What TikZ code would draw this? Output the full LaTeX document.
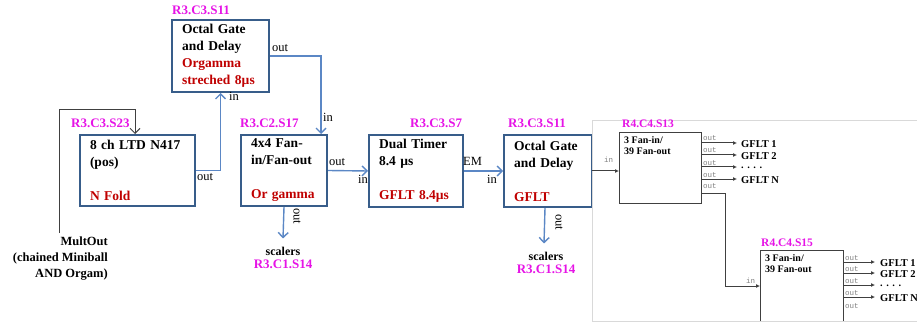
\documentclass[tikz,border=0pt]{standalone}
\usepackage{fontspec}
\setmainfont{Liberation Serif}
\newfontfamily\monofont{Liberation Mono}
\usetikzlibrary{arrows.meta,calc}
\definecolor{boxblue}{HTML}{385D8A}
\definecolor{arrblue}{HTML}{5B87C5}
\definecolor{mag}{HTML}{E614E6}
\definecolor{dred}{HTML}{C00000}
\definecolor{insetgray}{HTML}{D9D9D9}
\definecolor{pgray}{HTML}{404040}
\begin{document}
\begin{tikzpicture}[x=1pt,y=-1pt,
  blk/.style={draw=boxblue, line width=2pt, fill=white, anchor=north west, align=left,
    inner xsep=10pt, inner ysep=0pt, font=\bfseries\fontsize{13.5}{17}\selectfont},
  slot/.style={text=mag, font=\bfseries\fontsize{13}{15}\selectfont, anchor=base west, inner sep=0pt},
  arr/.style={draw=arrblue, line width=1.4pt, -{Straight Barb[length=5pt,width=10pt]}},
  lab/.style={font=\fontsize{12.5}{14}\selectfont, inner sep=0pt},
  ibox/.style={draw=pgray, line width=1pt, fill=white, anchor=north west, inner sep=0pt},
  itext/.style={font=\bfseries\fontsize{10}{11.5}\selectfont, anchor=north west, align=left, inner sep=0pt},
  iarr/.style={draw=pgray, line width=1pt, -{Latex[length=4pt,width=4pt]}},
  iline/.style={draw=pgray, line width=1pt},
  ilab/.style={font=\monofont\fontsize{7.5}{8}\selectfont, text=gray, inner sep=0pt, anchor=base west},
  gflt/.style={font=\bfseries\fontsize{10.5}{12}\selectfont, inner sep=0pt, anchor=west},
  ilabel/.style={text=mag, font=\bfseries\fontsize{11.5}{13}\selectfont, anchor=base west, inner sep=0pt}
]
\useasboundingbox (0,0) rectangle (917,323);

% main boxes
\node[blk, minimum width=97, minimum height=72, text width=77] (og1) at (171,19)
  {Octal Gate\\and Delay\\\textcolor{dred}{Orgamma}\\\textcolor{dred}{streched 8µs}};
\node[blk, minimum width=115, minimum height=71, text width=95] (ltd) at (79,134)
  {8 ch LTD N417\\(pos)\\\mbox{}\\\textcolor{dred}{N Fold}};
\node[blk, minimum width=86, minimum height=71, text width=66] (fan) at (240,134)
  {4x4 Fan-\\in/Fan-out\\\mbox{}\\\textcolor{dred}{Or gamma}};
\node[blk, minimum width=94, minimum height=72, text width=74] (dt) at (368,134)
  {Dual Timer\\8.4 µs\\\mbox{}\\\textcolor{dred}{GFLT 8.4µs}};
\node[blk, minimum width=88, minimum height=72, text width=68] (og2) at (503,134)
  {Octal Gate\\and Delay\\\mbox{}\\\textcolor{dred}{GFLT}};

% slot labels
\node[slot] (s1) at (172,15) {R3.C3.S11};
\node[slot] (s2) at (71,128) {R3.C3.S23};
\node[slot] (s3) at (240,128) {R3.C2.S17};
\node[slot] (s4) at (410,128) {R3.C3.S7};
\node[slot] (s5) at (508,128) {R3.C3.S11};

% scalers
\node[lab, font=\bfseries\fontsize{12}{14}\selectfont, anchor=base] (sc1) at (283,255) {scalers};
\node[slot, anchor=base] (sc1s) at (283,268) {R3.C1.S14};
\node[lab, font=\bfseries\fontsize{12}{14}\selectfont, anchor=base] (sc2) at (546,260) {scalers};
\node[slot, anchor=base] (sc2s) at (546,273) {R3.C1.S14};

% MultOut
\node[font=\bfseries\fontsize{12.5}{16}\selectfont, align=right, anchor=north east, inner sep=0pt] (mult) at (108,237)
  {MultOut\\(chained Miniball\\AND Orgam)};
\coordinate (mo) at (59,233);

% connectors
\draw[arr] (ltd.east) -| (og1.south);
\draw[arr] (og1.east) -| ([xshift=-7pt]fan.north east);
\draw[arr] (fan.east) -- (dt.west);
\draw[arr] (dt.east) -- (og2.west);
\draw[arr] (fan.south) -- ([yshift=8pt]sc1.north);
\draw[arr] ([xshift=-3pt]og2.south) -- ([yshift=8pt,xshift=-2pt]sc2.north);
\draw[draw=pgray, line width=1pt, -{Straight Barb[length=5pt,width=10pt]}]
  (mo) |- (135,110) -- ([xshift=56pt]ltd.north west);

% connector labels
\node[lab, anchor=base west] at (197,180) {out};
\node[lab, anchor=base west] at (229,101) {in};
\node[lab, anchor=base west] at (272,52) {out};
\node[lab, anchor=base west] at (323,122) {in};
\node[lab, anchor=base west] at (329,165) {out};
\node[lab, anchor=base west] at (358,183) {in};
\node[lab, anchor=base west] at (463,166) {EM};
\node[lab, anchor=base west] at (487,183) {in};
\node[lab, rotate=-90] at (297,216) {out};
\node[lab, rotate=-90] at (559,222) {out};

% inset
\draw[insetgray, line width=0.8pt] (592,120) rectangle (925,321);
\begin{scope}
\clip (590,110) rectangle (917,320.4);
\node[ibox, minimum width=82, minimum height=71] (b1) at (619,132) {};
\node[itext] (b1t) at ([xshift=5pt,yshift=-4pt]b1.north west) {3 Fan-in/\\39 Fan-out};
\node[ilabel] (b1l) at (622,128) {R4.C4.S13};
\draw[iarr] (og2.east -| 592,0) -- (og2.east -| b1.west);
\node[ilab] at (604,163) {in};
\foreach \y/\t in {143/GFLT 1,155/GFLT 2,167/{. . . .},179/GFLT N} {
  \draw[iarr] (701,\y) -- (737,\y);
  \node[ilab] at (703,\y-2) {out};
  \node[gflt] at (741,\y+1) {\t};
}
\node[ilab] at (703,189) {out};

\node[ibox, minimum width=83, minimum height=90] (b2) at (760,250) {};
\node[itext] (b2t) at ([xshift=5pt,yshift=-4pt]b2.north west) {3 Fan-in/\\39 Fan-out};
\node[ilabel] (b2l) at (761,246) {R4.C4.S15};
\draw[iline] ([yshift=11pt]b1.south east) -| (725,286);
\draw[iarr] (725,286) -- (b2.west |- 0,286);
\node[ilab] at (746,283) {in};
\foreach \y/\t in {262/GFLT 1,273/GFLT 2,285/{. . . .},297/GFLT N} {
  \draw[iarr] (843,\y) -- (875,\y);
  \node[ilab] at (845,\y-2) {out};
  \node[gflt] at (880,\y+1) {\t};
}
\node[ilab] at (845,308) {out};
\end{scope}
\end{tikzpicture}
\end{document}
